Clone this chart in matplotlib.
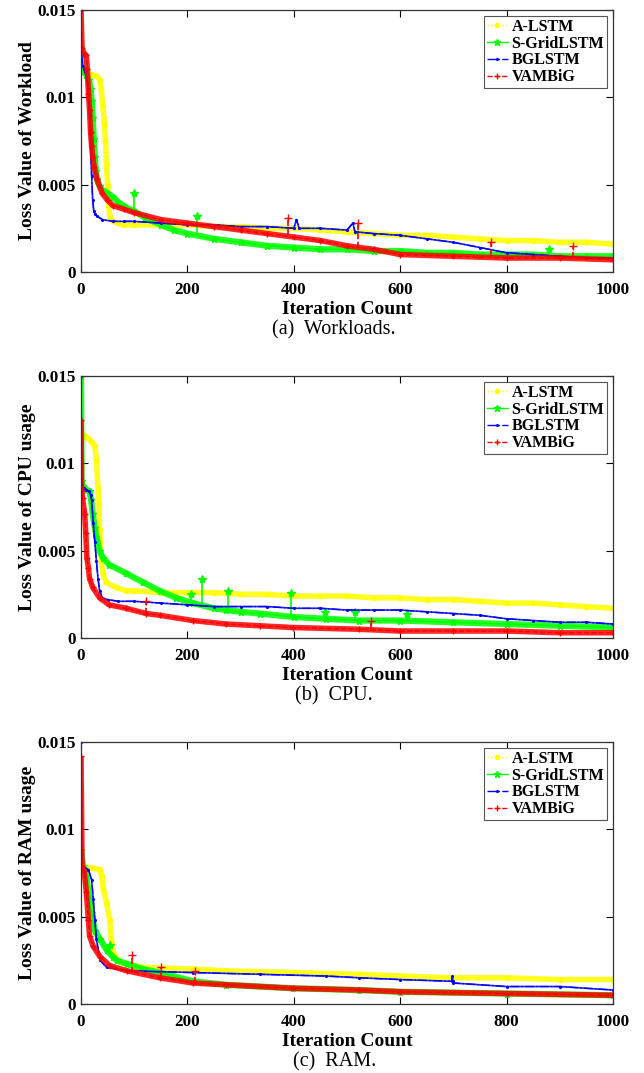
import matplotlib
matplotlib.use("Agg")
import matplotlib.pyplot as plt

plt.rcParams["font.family"] = "serif"
plt.rcParams["font.serif"] = ["Liberation Serif", "DejaVu Serif"]

# --- (a) workloads ---
wl_alstm_it = [0, 1, 5, 10, 20, 30, 35, 38, 41, 44, 46, 48, 50, 52, 55, 60, 70, 80, 100, 150, 200, 250, 300,
               350, 400, 450, 500, 550, 600, 650, 700, 750, 800, 850, 900, 950, 1000]
wl_alstm = [0.0116, 0.0115, 0.0114, 0.0114, 0.0113, 0.0112, 0.0110, 0.0105, 0.0095, 0.0085, 0.0075, 0.0062,
            0.0050, 0.0038, 0.0031, 0.0029, 0.0028, 0.0027, 0.0027, 0.0027, 0.0027, 0.0026, 0.0026, 0.0025,
            0.0025, 0.0024, 0.0023, 0.0022, 0.0021, 0.0021, 0.0020, 0.0019, 0.0018, 0.0018, 0.0017, 0.0017, 0.0016]

wl_grid_it = [0, 2, 5, 10, 15, 18, 20, 22, 24, 26, 28, 30, 35, 40, 50, 60, 70, 80, 90, 100, 120, 150,
              175, 200, 250, 300, 350, 400, 450, 500, 550, 600, 650, 700, 750, 800, 850, 900, 950, 1000]
wl_grid = [0.0128, 0.0116, 0.0115, 0.0113, 0.0110, 0.0105, 0.0098, 0.0088, 0.0076, 0.0066, 0.0058, 0.0053,
           0.0049, 0.0047, 0.0045, 0.0043, 0.0040, 0.0038, 0.0036, 0.0035, 0.0031, 0.0027,
           0.0024, 0.0022, 0.0019, 0.0017, 0.0015, 0.0014, 0.0013, 0.0013, 0.0012,
           0.0012, 0.0011, 0.0011, 0.0010, 0.0010, 0.0010, 0.0009, 0.0009, 0.0009]
wl_grid_spike_it = [100, 218, 880]
wl_grid_spike_base = [0.0035, 0.0021, 0.0009]
wl_grid_spike_top = [0.0045, 0.0032, 0.0013]

wl_bg_it = [0, 1, 3, 6, 10, 13, 16, 18, 20, 22, 24, 27, 30, 40, 60, 80, 100, 150, 200, 250, 300, 350, 400, 405,
            410, 450, 500, 511, 515, 550, 600, 650, 700, 750, 800, 850, 900, 950, 1000]
wl_bg = [0.0150, 0.0125, 0.0118, 0.0116, 0.0112, 0.0105, 0.0090, 0.0072, 0.0055, 0.0041, 0.0035, 0.0033,
         0.0032, 0.0030, 0.0029, 0.0029, 0.0029, 0.0028, 0.0027, 0.0027, 0.0026, 0.0026, 0.0025, 0.0030,
         0.0025, 0.0025, 0.0024, 0.0028, 0.0023, 0.0022, 0.0021, 0.0019, 0.0017, 0.0014, 0.0011, 0.0010,
         0.0009, 0.0008, 0.0008]

wl_vam_it = [0, 2, 6, 10, 12, 14, 16, 18, 20, 22, 25, 30, 40, 50, 60, 80, 100, 150, 200, 250, 300, 350,
             400, 450, 500, 550, 600, 700, 800, 900, 1000]
wl_vam = [0.0150, 0.0128, 0.0125, 0.0124, 0.0116, 0.0102, 0.0093, 0.0080, 0.0072, 0.0066, 0.0060, 0.0053,
          0.0045, 0.0041, 0.0038, 0.0036, 0.0034, 0.0030, 0.0028, 0.0026, 0.0024, 0.0022,
          0.0020, 0.0018, 0.0015, 0.0013, 0.0010, 0.0009, 0.0008, 0.0008, 0.0007]
wl_vam_spike_it = [389, 520, 770, 925]
wl_vam_spike_base = [0.0021, 0.0014, 0.0009, 0.0008]
wl_vam_spike_top = [0.0031, 0.0028, 0.0017, 0.0015]

# --- (b) CPU ---
cpu_alstm_it = [0, 1, 5, 10, 15, 20, 26, 29, 32, 34, 35, 38, 41, 47, 65, 85, 100, 150, 200, 250, 300, 350, 400,
                450, 500, 550, 600, 650, 700, 750, 800, 850, 900, 950, 1000]
cpu_alstm = [0.0118, 0.0117, 0.0116, 0.0115, 0.0114, 0.0112, 0.0110, 0.0102, 0.0086, 0.0077, 0.0062, 0.0044,
             0.0037, 0.0032, 0.0029, 0.0027, 0.0027, 0.0026, 0.0026, 0.0026, 0.0025, 0.0025, 0.0024, 0.0024,
             0.0024, 0.0023, 0.0023, 0.0022, 0.0022, 0.0021, 0.0020, 0.0020, 0.0019, 0.0018, 0.0017]

cpu_grid_it = [0, 1, 3, 10, 16, 19, 22, 26, 29, 35, 41, 53, 85, 116, 148, 179, 210, 250, 273, 300, 336, 400,
               461, 523, 600, 700, 800, 900, 1000]
cpu_grid = [0.0150, 0.0090, 0.0087, 0.0085, 0.0084, 0.0079, 0.0071, 0.0063, 0.0058, 0.0050, 0.0046, 0.0042,
            0.0037, 0.0032, 0.0027, 0.0023, 0.0020, 0.0017, 0.0016, 0.0015, 0.0014, 0.0012,
            0.0011, 0.0010, 0.0010, 0.0009, 0.0008, 0.0007, 0.0006]
cpu_grid_spike_it = [206, 228, 277, 394, 458, 515, 612]
cpu_grid_spike_base = [0.0021, 0.0019, 0.0016, 0.0012, 0.0011, 0.0010, 0.0010]
cpu_grid_spike_top = [0.0025, 0.0034, 0.0027, 0.0026, 0.0015, 0.0015, 0.0014]

cpu_bg_it = [0, 1, 2, 5, 10, 15, 18, 20, 23, 26, 29, 32, 35, 40, 50, 70, 100, 150, 200, 250, 300, 350, 400,
             450, 500, 550, 600, 650, 700, 750, 800, 850, 900, 950, 1000]
cpu_bg = [0.0150, 0.0100, 0.0088, 0.0086, 0.0085, 0.0084, 0.0082, 0.0079, 0.0066, 0.0055, 0.0044, 0.0034,
          0.0027, 0.0023, 0.0022, 0.0021, 0.0021, 0.0020, 0.0019, 0.0018, 0.0018, 0.0018, 0.0017, 0.0017,
          0.0016, 0.0016, 0.0016, 0.0015, 0.0014, 0.0013, 0.0011, 0.0010, 0.0009, 0.0009, 0.0008]

cpu_vam_it = [0, 1, 3, 7, 9, 11, 14, 16, 22, 35, 53, 85, 123, 148, 210, 273, 336, 398, 523, 600,
              700, 800, 900, 1000]
cpu_vam = [0.0125, 0.0085, 0.0080, 0.0071, 0.0060, 0.0046, 0.0040, 0.0034, 0.0029, 0.0023, 0.0019, 0.0017,
           0.0014, 0.0013, 0.0010, 0.0008, 0.0007, 0.0006, 0.0005, 0.0004, 0.0004, 0.0004,
           0.0003, 0.0003]
cpu_vam_spike_it = [123, 545]
cpu_vam_spike_base = [0.0014, 0.0005]
cpu_vam_spike_top = [0.0021, 0.0010]

# --- (c) RAM ---
ram_alstm_it = [0, 4, 20, 36, 39, 42, 48, 54, 57, 61, 73, 117, 211, 273, 398, 523, 600, 700, 800, 900, 1000]
ram_alstm = [0.0080, 0.0078, 0.0078, 0.0077, 0.0073, 0.0066, 0.0058, 0.0048, 0.0037, 0.0029, 0.0024, 0.0021,
             0.0020, 0.0019, 0.0018, 0.0017, 0.0016, 0.0015, 0.0015, 0.0014, 0.0014]

ram_grid_it = [0, 4, 10, 15, 20, 26, 36, 48, 60, 67, 86, 117, 148, 211, 273, 398, 523, 600, 800, 1000]
ram_grid = [0.0088, 0.0079, 0.0073, 0.0062, 0.0052, 0.0042, 0.0037, 0.0031, 0.0027, 0.0025, 0.0023,
            0.0020, 0.0018, 0.0013, 0.0011, 0.0009, 0.0008, 0.0007, 0.0006, 0.0005]
ram_grid_spike_it = [54]
ram_grid_spike_base = [0.0029]
ram_grid_spike_top = [0.0034]

ram_bg_it = [0, 2, 14, 20, 23, 26, 29, 36, 48, 86, 211, 336, 461, 523, 600, 697, 698, 699, 700, 800, 900, 1000]
ram_bg = [0.0150, 0.0079, 0.0077, 0.0071, 0.0060, 0.0048, 0.0037, 0.0025, 0.0021, 0.0019, 0.0018, 0.0017,
          0.0016, 0.0015, 0.0014, 0.0013, 0.0016, 0.0013, 0.0012, 0.0010, 0.0010, 0.0008]

ram_vam_it = [0, 2, 6, 10, 14, 16, 23, 36, 54, 86, 148, 211, 273, 398, 523, 600, 800, 1000]
ram_vam = [0.0142, 0.0079, 0.0076, 0.0064, 0.0048, 0.0039, 0.0033, 0.0027, 0.0022, 0.0019,
           0.0015, 0.0012, 0.0011, 0.0009, 0.0008, 0.0007, 0.0006, 0.0005]
ram_vam_spike_it = [95, 151, 214]
ram_vam_spike_base = [0.0018, 0.0015, 0.0012]
ram_vam_spike_top = [0.0028, 0.0021, 0.0019]

model_names = ["A-LSTM", "S-GridLSTM", "BGLSTM", "VAMBiG"]
ylabels = ["Loss Value of Workload", "Loss Value of CPU usage", "Loss Value of RAM usage"]
captions = ["(a)  Workloads.", "(b)  CPU.", "(c)  RAM."]
xticks = [0, 200, 400, 600, 800, 1000]
yticks = [0, 0.005, 0.01, 0.015]
ytick_labels = ["0", "0.005", "0.01", "0.015"]

panel_data = [
    [(wl_alstm_it, wl_alstm), (wl_grid_it, wl_grid), (wl_bg_it, wl_bg), (wl_vam_it, wl_vam)],
    [(cpu_alstm_it, cpu_alstm), (cpu_grid_it, cpu_grid), (cpu_bg_it, cpu_bg), (cpu_vam_it, cpu_vam)],
    [(ram_alstm_it, ram_alstm), (ram_grid_it, ram_grid), (ram_bg_it, ram_bg), (ram_vam_it, ram_vam)],
]
# spikes per panel: (series index, iterations, base, top)
panel_spikes = [
    [(1, wl_grid_spike_it, wl_grid_spike_base, wl_grid_spike_top),
     (3, wl_vam_spike_it, wl_vam_spike_base, wl_vam_spike_top)],
    [(1, cpu_grid_spike_it, cpu_grid_spike_base, cpu_grid_spike_top),
     (3, cpu_vam_spike_it, cpu_vam_spike_base, cpu_vam_spike_top)],
    [(1, ram_grid_spike_it, ram_grid_spike_base, ram_grid_spike_top),
     (3, ram_vam_spike_it, ram_vam_spike_base, ram_vam_spike_top)],
]

# colour, linestyle, marker, markersize, band width
styles = [
    ("#ffff00", ":", ".", 6, 4.0),
    ("#00ff00", "-", "*", 5, 4.5),
    ("#0000ff", "-.", ".", 2.5, 1.2),
    ("#ff0000", "--", "+", 5, 4.0),
]

W, H = 644, 1073
fig = plt.figure(figsize=(W / 100, H / 100), dpi=100)
ax_left, ax_w, ax_h = 81 / W, 532 / W, 262 / H
ax_tops = [10, 376, 742]

for k in range(3):
    bottom = 1 - (ax_tops[k] + 262) / H
    ax = fig.add_axes([ax_left, bottom, ax_w, ax_h])
    handles = []
    for s, ((it, loss), name, (col, ls, mk, ms, band)) in enumerate(zip(panel_data[k], model_names, styles)):
        ax.plot(it, loss, color=col, lw=band, alpha=0.85, solid_capstyle="butt")
        h, = ax.plot(it, loss, color=col, ls=ls, lw=1.0, marker=mk, ms=ms,
                     mec=col, mfc=col, label=name)
        handles.append(h)
        for si, sit, sbase, stop in panel_spikes[k]:
            if si == s:
                ax.vlines(sit, sbase, stop, color=col, lw=1.2, linestyles=ls)
                ax.plot(sit, stop, ls="none", marker=mk, ms=ms + 1, color=col)
    ax.set_xlim(0, 1000)
    ax.set_ylim(0, 0.015)
    ax.set_xticks(xticks)
    ax.set_yticks(yticks)
    ax.set_yticklabels(ytick_labels)
    ax.tick_params(direction="in", top=True, right=True, length=5, width=0.8,
                   labelsize=12.3)
    ax.tick_params(axis="x", pad=7)
    ax.tick_params(axis="y", pad=4)
    for lab in ax.get_xticklabels() + ax.get_yticklabels():
        lab.set_fontweight("bold")
    for sp in ax.spines.values():
        sp.set_linewidth(0.9)
        sp.set_color("#333333")
    ax.set_ylabel(ylabels[k], fontsize=14, fontweight="bold", labelpad=1)
    ax.set_xlabel("Iteration Count", fontsize=14, fontweight="bold", labelpad=2)
    ax.text(0.476, -0.222, captions[k], transform=ax.transAxes, ha="center", va="center",
            fontsize=14.5)
    leg = ax.legend(handles=handles, loc="upper right", fancybox=False, framealpha=1,
                    edgecolor="#555555", prop={"weight": "bold", "size": 11.5},
                    handlelength=1.3, handletextpad=0.25, borderpad=0.2,
                    labelspacing=0.05, borderaxespad=0.35)
    leg.get_frame().set_linewidth(0.8)

fig.savefig("out.png", dpi=100)
